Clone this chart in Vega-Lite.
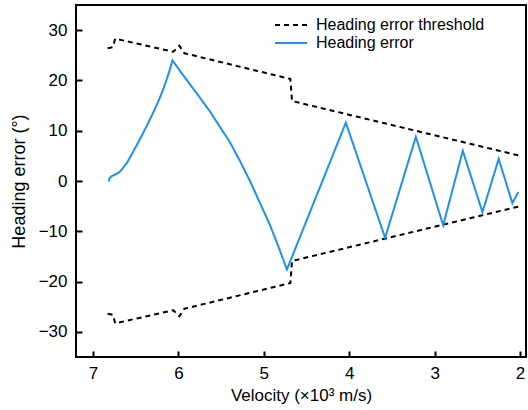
{
  "$schema": "https://vega.github.io/schema/vega-lite/v6.json",
  "width": 450,
  "height": 352,
  "autosize": {"type": "none"},
  "padding": {"left": 76, "top": 5, "right": 2, "bottom": 53},
  "background": "white",
  "config": {
    "view": {"stroke": "black", "strokeWidth": 2},
    "font": "Liberation Sans",
    "axis": {
      "domain": false,
      "grid": false,
      "ticks": true,
      "tickColor": "black",
      "tickSize": -6,
      "tickWidth": 2,
      "labelFont": "Liberation Sans",
      "labelFontSize": 17,
      "labelColor": "black",
      "titleFont": "Liberation Sans",
      "titleFontSize": 17,
      "titleFontWeight": "normal",
      "titleColor": "black"
    },
    "legend": {
      "labelFont": "Liberation Sans",
      "labelFontSize": 16,
      "labelColor": "black",
      "labelLimit": 400,
      "symbolType": "stroke",
      "symbolSize": 1024,
      "symbolStrokeWidth": 2,
      "clipHeight": 16,
      "rowPadding": 4,
      "labelOffset": 8,
      "padding": 0
    }
  },
  "data": {
    "values": [
      {"series": "Heading error threshold", "part": "upper", "i": 1, "v": 6.83, "e": 26.4},
      {"series": "Heading error threshold", "part": "upper", "i": 2, "v": 6.77, "e": 26.6},
      {"series": "Heading error threshold", "part": "upper", "i": 3, "v": 6.74, "e": 28.3},
      {"series": "Heading error threshold", "part": "upper", "i": 4, "v": 6.06, "e": 25.7},
      {"series": "Heading error threshold", "part": "upper", "i": 5, "v": 5.99, "e": 26.9},
      {"series": "Heading error threshold", "part": "upper", "i": 6, "v": 5.93, "e": 25.4},
      {"series": "Heading error threshold", "part": "upper", "i": 7, "v": 4.69, "e": 20.3},
      {"series": "Heading error threshold", "part": "upper", "i": 8, "v": 4.67, "e": 15.9},
      {"series": "Heading error threshold", "part": "upper", "i": 9, "v": 2.02, "e": 5.1},
      {"series": "Heading error threshold", "part": "lower", "i": 1, "v": 6.83, "e": -26.4},
      {"series": "Heading error threshold", "part": "lower", "i": 2, "v": 6.77, "e": -26.6},
      {"series": "Heading error threshold", "part": "lower", "i": 3, "v": 6.74, "e": -28.3},
      {"series": "Heading error threshold", "part": "lower", "i": 4, "v": 6.06, "e": -25.7},
      {"series": "Heading error threshold", "part": "lower", "i": 5, "v": 5.99, "e": -26.9},
      {"series": "Heading error threshold", "part": "lower", "i": 6, "v": 5.93, "e": -25.4},
      {"series": "Heading error threshold", "part": "lower", "i": 7, "v": 4.69, "e": -20.3},
      {"series": "Heading error threshold", "part": "lower", "i": 8, "v": 4.67, "e": -15.9},
      {"series": "Heading error threshold", "part": "lower", "i": 9, "v": 2.02, "e": -5.1},
      {"series": "Heading error", "part": "err", "i": 1, "v": 6.815, "e": -0.1},
      {"series": "Heading error", "part": "err", "i": 2, "v": 6.805, "e": 0.6},
      {"series": "Heading error", "part": "err", "i": 3, "v": 6.78, "e": 1.0},
      {"series": "Heading error", "part": "err", "i": 4, "v": 6.74, "e": 1.3},
      {"series": "Heading error", "part": "err", "i": 5, "v": 6.69, "e": 1.8},
      {"series": "Heading error", "part": "err", "i": 6, "v": 6.65, "e": 2.6},
      {"series": "Heading error", "part": "err", "i": 7, "v": 6.6, "e": 3.7},
      {"series": "Heading error", "part": "err", "i": 8, "v": 6.55, "e": 5.2},
      {"series": "Heading error", "part": "err", "i": 9, "v": 6.49, "e": 7.1},
      {"series": "Heading error", "part": "err", "i": 10, "v": 6.43, "e": 9.0},
      {"series": "Heading error", "part": "err", "i": 11, "v": 6.37, "e": 11.0},
      {"series": "Heading error", "part": "err", "i": 12, "v": 6.31, "e": 13.1},
      {"series": "Heading error", "part": "err", "i": 13, "v": 6.25, "e": 15.3},
      {"series": "Heading error", "part": "err", "i": 14, "v": 6.19, "e": 17.7},
      {"series": "Heading error", "part": "err", "i": 15, "v": 6.14, "e": 20.1},
      {"series": "Heading error", "part": "err", "i": 16, "v": 6.1, "e": 22.2},
      {"series": "Heading error", "part": "err", "i": 17, "v": 6.07, "e": 24.0},
      {"series": "Heading error", "part": "err", "i": 18, "v": 5.97, "e": 21.6},
      {"series": "Heading error", "part": "err", "i": 19, "v": 5.86, "e": 19.1},
      {"series": "Heading error", "part": "err", "i": 20, "v": 5.75, "e": 16.6},
      {"series": "Heading error", "part": "err", "i": 21, "v": 5.63, "e": 13.8},
      {"series": "Heading error", "part": "err", "i": 22, "v": 5.52, "e": 10.9},
      {"series": "Heading error", "part": "err", "i": 23, "v": 5.4, "e": 7.8},
      {"series": "Heading error", "part": "err", "i": 24, "v": 5.28, "e": 4.0},
      {"series": "Heading error", "part": "err", "i": 25, "v": 5.16, "e": -0.1},
      {"series": "Heading error", "part": "err", "i": 26, "v": 5.05, "e": -4.2},
      {"series": "Heading error", "part": "err", "i": 27, "v": 4.93, "e": -8.7},
      {"series": "Heading error", "part": "err", "i": 28, "v": 4.83, "e": -13.0},
      {"series": "Heading error", "part": "err", "i": 29, "v": 4.73, "e": -17.6},
      {"series": "Heading error", "part": "err", "i": 30, "v": 4.04, "e": 11.6},
      {"series": "Heading error", "part": "err", "i": 31, "v": 3.58, "e": -11.3},
      {"series": "Heading error", "part": "err", "i": 32, "v": 3.22, "e": 8.8},
      {"series": "Heading error", "part": "err", "i": 33, "v": 2.9, "e": -8.8},
      {"series": "Heading error", "part": "err", "i": 34, "v": 2.67, "e": 6.0},
      {"series": "Heading error", "part": "err", "i": 35, "v": 2.44, "e": -6.2},
      {"series": "Heading error", "part": "err", "i": 36, "v": 2.25, "e": 4.4},
      {"series": "Heading error", "part": "err", "i": 37, "v": 2.09, "e": -4.4},
      {"series": "Heading error", "part": "err", "i": 38, "v": 2.02, "e": -2.2}
    ]
  },
  "mark": {"type": "line", "strokeWidth": 2},
  "encoding": {
    "x": {
      "field": "v",
      "type": "quantitative",
      "scale": {"domain": [1.93, 7.2], "reverse": true, "nice": false, "zero": false},
      "axis": {"values": [2, 3, 4, 5, 6, 7], "title": "Velocity (×10³ m/s)", "labelPadding": 14, "titlePadding": 6}
    },
    "y": {
      "field": "e",
      "type": "quantitative",
      "scale": {"domain": [-35, 35], "nice": false, "zero": false},
      "axis": {"values": [-30, -20, -10, 0, 10, 20, 30], "title": "Heading error (°)", "titleFontSize": 18, "labelPadding": 15, "titlePadding": 10}
    },
    "color": {
      "field": "series",
      "type": "nominal",
      "scale": {"domain": ["Heading error threshold", "Heading error"], "range": ["black", "#1e90f0"]},
      "legend": {"title": null, "orient": "none", "legendX": 198, "legendY": 12, "rowPadding": 2}
    },
    "strokeDash": {
      "field": "series",
      "type": "nominal",
      "scale": {"domain": ["Heading error threshold", "Heading error"], "range": [[5, 4], [1, 0]]},
      "legend": {"title": null, "orient": "none", "legendX": 198, "legendY": 12, "rowPadding": 2}
    },
    "detail": {"field": "part"},
    "order": {"field": "i"}
  }
}
